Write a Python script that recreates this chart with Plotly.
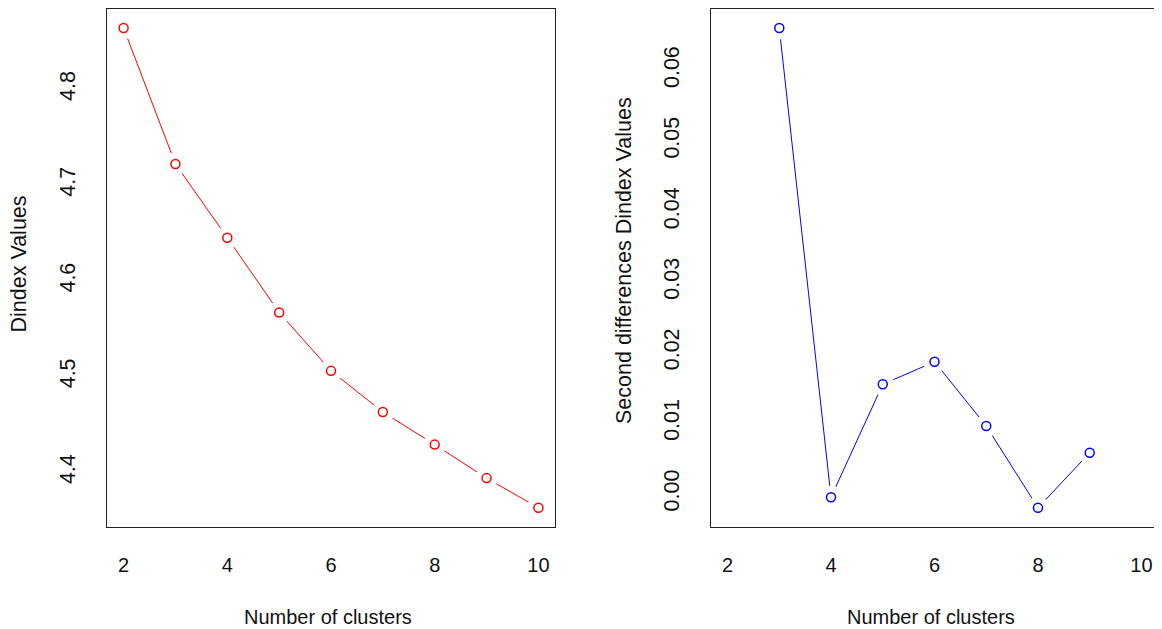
import plotly.graph_objects as go

# ---- data ----
clusters_left = [2, 3, 4, 5, 6, 7, 8, 9, 10]
dindex_values = [4.864, 4.722, 4.645, 4.567, 4.506, 4.463, 4.429, 4.394, 4.363]

clusters_right = [3, 4, 5, 6, 7, 8, 9]
second_diff = [0.0660, -0.0005, 0.0155, 0.0187, 0.0096, -0.0020, 0.0058]

x_ticks = [2, 4, 6, 8, 10]
left_y_ticks = [4.4, 4.5, 4.6, 4.7, 4.8]
right_y_ticks = [0.00, 0.01, 0.02, 0.03, 0.04, 0.05, 0.06]

FONT = "Liberation Sans, Arial, sans-serif"
FS_H = 20     # horizontal text
FS_V = 21.5   # vertical text
TXT = "#111111"

W, H = 1154, 621  # page body has an 8px margin


def r_range(vals):
    lo, hi = min(vals), max(vals)
    d = (hi - lo) * 0.04
    return [lo - d, hi + d]


fig = go.Figure()


def add_series(x, y, color, xa, ya):
    fig.add_trace(go.Scatter(x=x, y=y, mode="lines", line=dict(color=color, width=1.0),
                             xaxis=xa, yaxis=ya, showlegend=False, hoverinfo="skip"))
    fig.add_trace(go.Scatter(x=x, y=y, mode="markers",
                             marker=dict(symbol="circle", size=23, color="white", line=dict(width=0)),
                             xaxis=xa, yaxis=ya, showlegend=False, hoverinfo="skip"))
    fig.add_trace(go.Scatter(x=x, y=y, mode="markers",
                             marker=dict(symbol="circle-open", size=9, color=color, line=dict(width=1.5)),
                             xaxis=xa, yaxis=ya, showlegend=False))


add_series(clusters_left, dindex_values, "#FF0000", "x", "y")
add_series(clusters_right, second_diff, "#0000FF", "x2", "y2")

x_range = r_range(x_ticks)

axis_common = dict(showgrid=False, zeroline=False, showline=True, mirror=True,
                   linecolor="#222222", linewidth=1.3, ticks="", ticklen=0)
xtickfont = dict(family=FONT, size=FS_H, color=TXT)
ytickfont = dict(family=FONT, size=FS_V, color=TXT)

y_dom = [102 / H, (H - 0.8) / H]

fig.update_layout(
    width=W, height=H,
    margin=dict(l=0, r=0, t=0, b=0),
    paper_bgcolor="white", plot_bgcolor="white",
    xaxis=dict(domain=[99 / W, 547 / W], range=x_range, tickvals=x_ticks, tickfont=xtickfont,
               ticklabelstandoff=20, anchor="y", **axis_common),
    yaxis=dict(domain=y_dom, range=r_range(dindex_values), tickvals=left_y_ticks, tickfont=ytickfont,
               tickformat=".1f", tickangle=-90, ticklabelstandoff=22, anchor="x", **axis_common),
    xaxis2=dict(domain=[703 / W, 1150 / W], range=x_range, tickvals=x_ticks, tickfont=xtickfont,
                ticklabelstandoff=20, anchor="y2", **axis_common),
    yaxis2=dict(domain=y_dom, range=r_range(second_diff), tickvals=right_y_ticks, tickfont=ytickfont,
                tickformat=".2f", tickangle=-90, ticklabelstandoff=22, anchor="x2", **axis_common),
    annotations=[
        dict(text="Number of clusters", x=319.5 / W, y=(H - 608.7) / H, xref="paper", yref="paper",
             showarrow=False, font=dict(family=FONT, size=FS_H, color=TXT),
             xanchor="center", yanchor="middle"),
        dict(text="Number of clusters", x=922.5 / W, y=(H - 608.7) / H, xref="paper", yref="paper",
             showarrow=False, font=dict(family=FONT, size=FS_H, color=TXT),
             xanchor="center", yanchor="middle"),
        dict(text="Dindex Values", x=10.5 / W, y=(H - 256) / H, xref="paper", yref="paper",
             showarrow=False, textangle=-90, font=dict(family=FONT, size=FS_V, color=TXT),
             xanchor="center", yanchor="middle"),
        dict(text="Second differences Dindex Values", x=616 / W, y=(H - 253) / H,
             xref="paper", yref="paper", showarrow=False, textangle=-90,
             font=dict(family=FONT, size=FS_V, color=TXT),
             xanchor="center", yanchor="middle"),
    ],
)

fig.write_html("out.html")
